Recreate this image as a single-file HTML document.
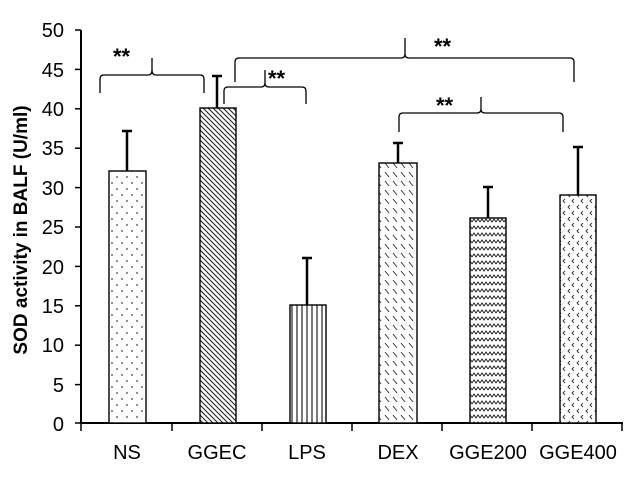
<!DOCTYPE html>
<html><head><style>
html,body{margin:0;padding:0;background:#fff;}
svg{display:block;}
text{font-family:"Liberation Sans",Arial,sans-serif;}
</style></head><body>
<svg width="640" height="480" viewBox="0 0 640 480" xmlns="http://www.w3.org/2000/svg">
<defs>
<pattern id="dots" width="10" height="12" patternUnits="userSpaceOnUse"><rect width="10" height="12" fill="#fff"/><circle cx="2" cy="3" r="0.9" fill="#444"/><circle cx="7" cy="9" r="0.9" fill="#444"/></pattern>
<pattern id="diag" width="5" height="5" patternUnits="userSpaceOnUse"><rect width="5" height="5" fill="#fff"/><path d="M-1,-1 L6,6 M-1,4 L1,6 M4,-1 L6,1" stroke="#222" stroke-width="1.1"/></pattern>
<pattern id="vert" width="5" height="10" patternUnits="userSpaceOnUse"><rect width="5" height="10" fill="#fff"/><line x1="2" y1="0" x2="2" y2="10" stroke="#222" stroke-width="1.2"/></pattern>
<pattern id="dash" width="8" height="9" patternUnits="userSpaceOnUse"><rect width="8" height="9" fill="#fff"/><path d="M1,1 L5,6" stroke="#333" stroke-width="1"/></pattern>
<pattern id="zig" width="8" height="7" patternUnits="userSpaceOnUse"><rect width="8" height="7" fill="#fff"/><path d="M0,5 L2,2 L4,5 L6,2 L8,5" stroke="#222" stroke-width="1" fill="none"/></pattern>
<pattern id="chev" width="9" height="12" patternUnits="userSpaceOnUse"><rect width="9" height="12" fill="#fff"/><path d="M3,1 L1,3 L3,5 M7,7 L5,9 L7,11" stroke="#333" stroke-width="0.9" fill="none"/></pattern>
</defs>
<g stroke="#000" stroke-width="2" fill="none">
<line x1="81" y1="30" x2="81" y2="424"/>
<line x1="80" y1="423" x2="623" y2="423"/>
</g>
<g stroke="#000" stroke-width="1.5">
<line x1="75" y1="30" x2="81" y2="30"/><line x1="75" y1="69.4" x2="81" y2="69.4"/><line x1="75" y1="108.8" x2="81" y2="108.8"/><line x1="75" y1="148.2" x2="81" y2="148.2"/><line x1="75" y1="187.6" x2="81" y2="187.6"/><line x1="75" y1="227" x2="81" y2="227"/><line x1="75" y1="266.4" x2="81" y2="266.4"/><line x1="75" y1="305.8" x2="81" y2="305.8"/><line x1="75" y1="345.2" x2="81" y2="345.2"/><line x1="75" y1="384.6" x2="81" y2="384.6"/><line x1="75" y1="423" x2="81" y2="423"/>
<line x1="81" y1="423" x2="81" y2="431"/><line x1="172" y1="423" x2="172" y2="431"/><line x1="262" y1="423" x2="262" y2="431"/><line x1="352" y1="423" x2="352" y2="431"/><line x1="442" y1="423" x2="442" y2="431"/><line x1="532" y1="423" x2="532" y2="431"/><line x1="622" y1="423" x2="622" y2="431"/>
</g>
<g font-size="20" text-anchor="end" fill="#000">
<text x="64" y="37">50</text><text x="64" y="77">45</text><text x="64" y="116">40</text><text x="64" y="155">35</text><text x="64" y="195">30</text><text x="64" y="234">25</text><text x="64" y="274">20</text><text x="64" y="313">15</text><text x="64" y="352">10</text><text x="64" y="392">5</text><text x="64" y="431">0</text>
</g>
<text transform="translate(27,230) rotate(-90)" font-size="19" font-weight="bold" text-anchor="middle">SOD activity in BALF (U/ml)</text>
<g stroke="#000" stroke-width="1.4">
<rect x="109" y="171" width="37" height="252" fill="url(#dots)"/>
<rect x="200" y="108" width="36" height="315" fill="url(#diag)"/>
<rect x="290" y="305" width="36" height="118" fill="url(#vert)"/>
<rect x="379" y="163" width="38" height="260" fill="url(#dash)"/>
<rect x="470" y="218" width="36" height="205" fill="url(#zig)"/>
<rect x="560" y="195" width="36" height="228" fill="url(#chev)"/>
</g>
<g stroke="#000" stroke-width="2.5">
<line x1="127" y1="171" x2="127" y2="131"/><line x1="122" y1="131" x2="132" y2="131"/>
<line x1="217" y1="108" x2="217" y2="76"/><line x1="212" y1="76" x2="222" y2="76"/>
<line x1="307" y1="305" x2="307" y2="258"/><line x1="302" y1="258" x2="312" y2="258"/>
<line x1="398" y1="163" x2="398" y2="143"/><line x1="393" y1="143" x2="403" y2="143"/>
<line x1="488" y1="218" x2="488" y2="187"/><line x1="483" y1="187" x2="493" y2="187"/>
<line x1="578" y1="195" x2="578" y2="147"/><line x1="573" y1="147" x2="583" y2="147"/>
</g>
<g stroke="#000" stroke-width="1.3" fill="none">
<path d="M100,93 L100,79 Q100,75 104,75 L148,75 Q152,75 152,70 L152,58 M152,70 Q152,75 156,75 L200,75 Q204,75 204,79 L204,93"/>
<path d="M224,104 L224,91 Q224,87 228,87 L261,87 Q265,87 265,83 L265,70 M265,83 Q265,87 269,87 L302,87 Q306,87 306,91 L306,104"/>
<path d="M235,82 L235,62 Q235,58 239,58 L401,58 Q405,58 405,54 L405,38 M405,54 Q405,58 409,58 L570,58 Q574,58 574,62 L574,82"/>
<path d="M399,132 L399,117 Q399,113 403,113 L477,113 Q481,113 481,109 L481,97 M481,109 Q481,113 485,113 L559,113 Q563,113 563,117 L563,132"/>
</g>
<g font-size="22" font-weight="bold" fill="#000">
<text x="113" y="64">**</text>
<text x="268" y="86">**</text>
<text x="434" y="54">**</text>
<text x="436" y="113">**</text>
</g>
<g font-size="20" text-anchor="middle" fill="#000">
<text x="127" y="459">NS</text><text x="217" y="459">GGEC</text><text x="307" y="459">LPS</text><text x="398" y="459">DEX</text><text x="488" y="459">GGE200</text><text x="578" y="459">GGE400</text>
</g>
</svg>
</body></html>
